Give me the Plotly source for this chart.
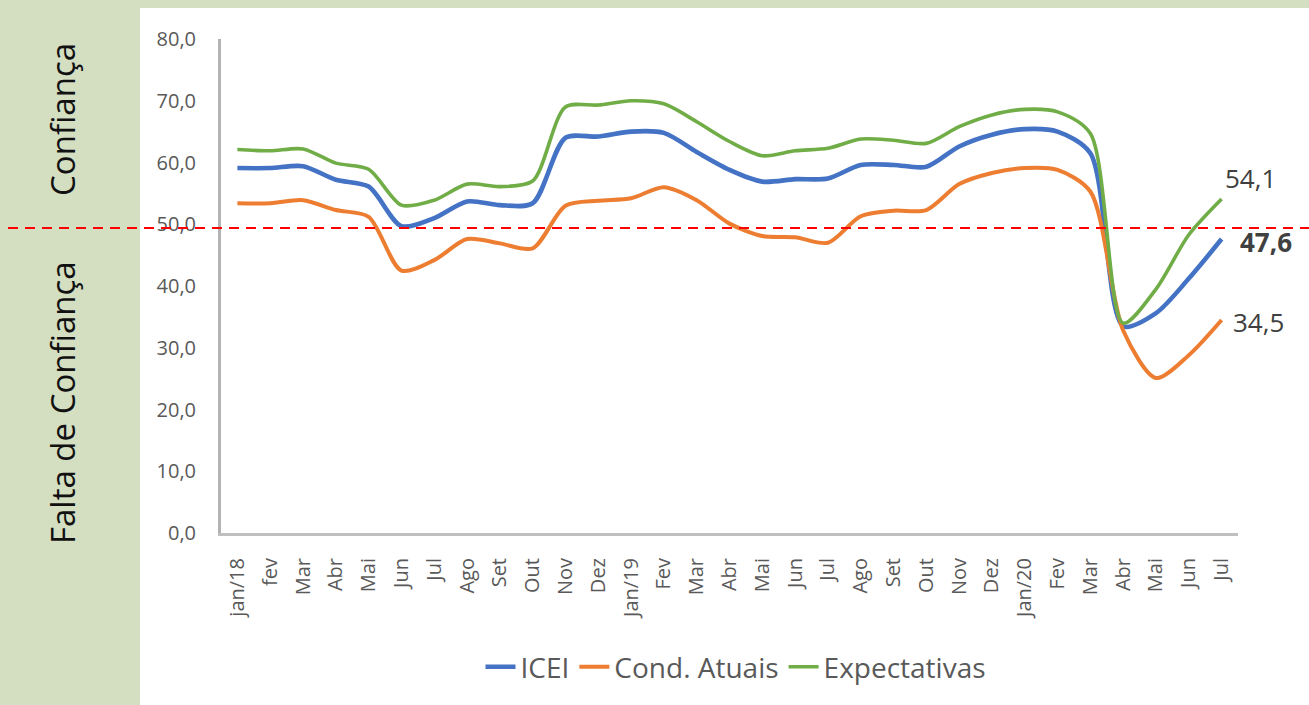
import plotly.graph_objects as go

months = ["jan/18", "fev", "Mar", "Abr", "Mai", "Jun", "Jul", "Ago", "Set", "Out", "Nov", "Dez",
          "Jan/19", "Fev", "Mar", "Abr", "Mai", "Jun", "Jul", "Ago", "Set", "Out", "Nov", "Dez",
          "Jan/20", "Fev", "Mar", "Abr", "Mai", "Jun", "Jul"]

icei = [59.1, 59.1, 59.4, 57.2, 56.1, 49.7, 51.0, 53.7, 53.1, 53.4, 64.0, 64.2,
        65.0, 64.8, 61.7, 58.8, 56.9, 57.3, 57.4, 59.6, 59.6, 59.3, 62.6, 64.5,
        65.4, 65.0, 61.5, 33.5, 35.6, 41.2, 47.6]
cond_atuais = [53.4, 53.4, 53.9, 52.3, 51.2, 42.5, 44.2, 47.6, 46.9, 46.1, 53.0, 53.8,
               54.2, 56.0, 53.9, 50.1, 48.1, 47.9, 47.0, 51.3, 52.2, 52.3, 56.5, 58.3,
               59.1, 58.8, 55.3, 32.8, 25.1, 28.8, 34.5]
expectativas = [62.1, 61.9, 62.2, 59.9, 58.9, 53.1, 53.9, 56.5, 56.1, 57.0, 69.0, 69.3,
                70.0, 69.5, 66.6, 63.4, 61.1, 61.9, 62.3, 63.8, 63.6, 63.1, 65.8, 67.7,
                68.6, 68.2, 64.7, 34.0, 39.5, 48.3, 54.1]

y_ticks = [0, 10, 20, 30, 40, 50, 60, 70, 80]
threshold = 49.4

series = [("ICEI", icei, "#4472C4", 4.6),
          ("Cond. Atuais", cond_atuais, "#ED7D31", 4.0),
          ("Expectativas", expectativas, "#70AD47", 3.6)]

xs = list(range(len(months)))
fig = go.Figure()
for name, vals, color, w in series:
    fig.add_trace(go.Scatter(x=xs, y=vals, name=name, mode="lines",
                             line=dict(color=color, width=w, shape="spline", smoothing=0.8)))

W, H = 1309, 705
L, R, T, B = 221, 71, 39, 172
pw, ph = W - L - R, H - T - B
def px(X):
    return (X - L) / pw
def py(Y):
    return (H - B - Y) / ph

tick_font = dict(family="Open Sans, sans-serif", size=20, color="#595959")

fig.update_layout(
    width=W, height=H,
    margin=dict(l=L, r=R, t=T, b=B, pad=0),
    paper_bgcolor="#d4dec1",
    plot_bgcolor="white",
    separators=",.",
    showlegend=True,
    legend=dict(orientation="h", x=px(736), xanchor="center", y=py(667), yanchor="middle",
                font=dict(family="Open Sans, sans-serif", size=28, color="#595959"),
                bgcolor="rgba(0,0,0,0)"),
    xaxis=dict(range=[-0.5, len(months) - 0.5], tickmode="array", tickvals=xs, ticktext=months,
               tickangle=-90, tickfont=tick_font, showgrid=False, zeroline=False,
               showline=True, linecolor="#bfbfbf", linewidth=3, ticks="", ticklabelstandoff=14),
    yaxis=dict(range=[0, 80], tickmode="array", tickvals=y_ticks, tickformat=".1f",
               tickfont=tick_font, showgrid=False, zeroline=False,
               showline=True, linecolor="#b3b3b3", linewidth=3, ticks="", ticklabelstandoff=18),
    shapes=[
        dict(type="rect", xref="paper", yref="paper", x0=px(140), x1=px(W + 5), y0=py(H + 5), y1=py(8),
             fillcolor="white", line=dict(width=0), layer="below"),
        dict(type="line", xref="paper", yref="y", x0=px(8), x1=px(W), y0=threshold, y1=threshold,
             line=dict(color="#FF0000", width=2, dash="10px,7px"), layer="above"),
    ],
)

# side labels
fig.add_annotation(text="Confiança", xref="paper", yref="paper", x=px(62), y=py(120),
                   xanchor="center", yanchor="middle", showarrow=False, textangle=-90,
                   font=dict(family="Open Sans, sans-serif", size=33, color="#111111"))
fig.add_annotation(text="Falta de Confiança", xref="paper", yref="paper", x=px(62), y=py(403),
                   xanchor="center", yanchor="middle", showarrow=False, textangle=-90,
                   font=dict(family="Open Sans, sans-serif", size=33, color="#111111"))

# end labels
last = len(months) - 1
def fmt(v):
    return f"{v:.1f}".replace(".", ",")
fig.add_annotation(text=fmt(expectativas[-1]), x=last, y=expectativas[-1], xanchor="left", yanchor="middle",
                   xshift=1, yshift=21, showarrow=False,
                   font=dict(family="Open Sans, sans-serif", size=26, color="#404040"))
fig.add_annotation(text="<b>" + fmt(icei[-1]) + "</b>", x=last, y=icei[-1], xanchor="left", yanchor="middle",
                   xshift=16, yshift=-3, showarrow=False,
                   font=dict(family="Open Sans, sans-serif", size=26, color="#404040"))
fig.add_annotation(text=fmt(cond_atuais[-1]), x=last, y=cond_atuais[-1], xanchor="left", yanchor="middle",
                   xshift=9, yshift=-2, showarrow=False,
                   font=dict(family="Open Sans, sans-serif", size=26, color="#404040"))

fig.write_html("out.html", config={"displayModeBar": False},
               post_script="document.body.style.margin='0';document.body.style.padding='0';")
